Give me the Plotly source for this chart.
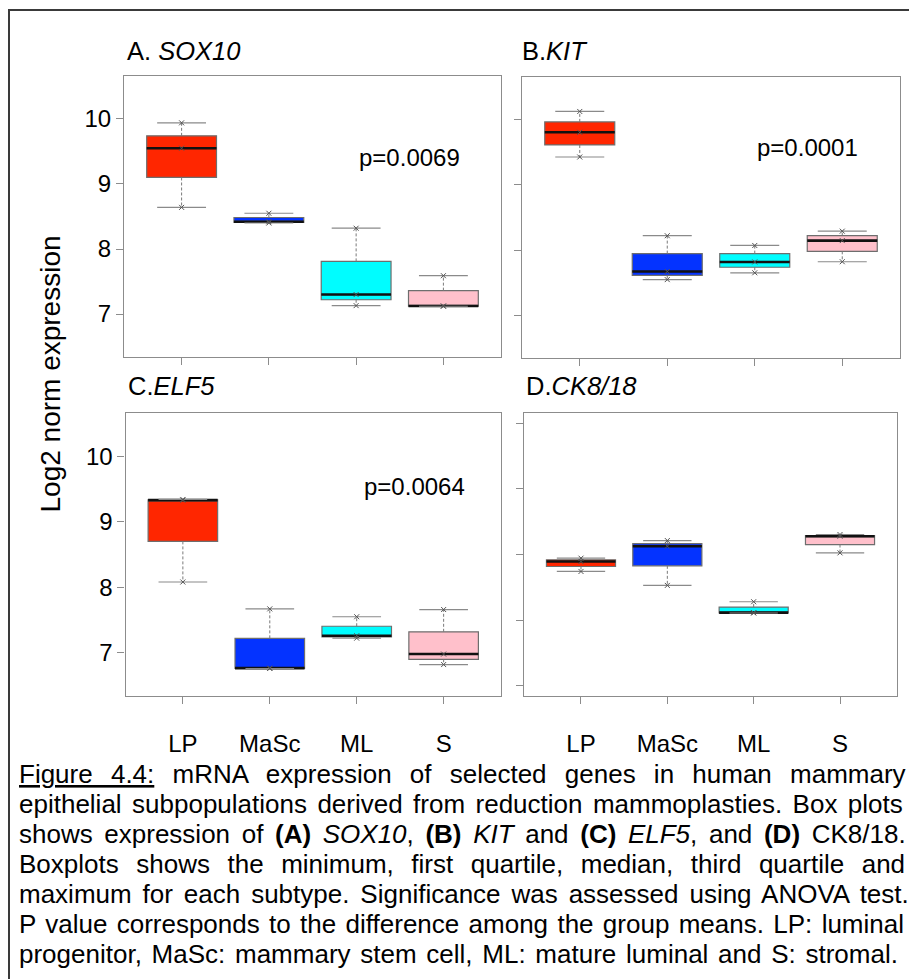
import plotly.graph_objects as go

W, H = 917, 979
OFF = 8  # page body margin of the browser

groups = ["LP", "MaSc", "ML", "S"]
colors = ["#FF2600", "#0433FF", "#00FDFF", "#FFC0CB"]

# five-number summaries per panel (min, q1, median, q3, max)
sox10_min = [8.64, 8.40, 7.13, 7.12]
sox10_q1 = [9.10, 8.41, 7.22, 7.12]
sox10_med = [9.55, 8.42, 7.30, 7.125]
sox10_q3 = [9.74, 8.485, 7.81, 7.36]
sox10_max = [9.94, 8.55, 8.32, 7.59]

kit_min = [9.43, 7.545, 7.65, 7.82]
kit_q1 = [9.615, 7.61, 7.735, 7.98]
kit_med = [9.81, 7.67, 7.817, 8.145]
kit_q3 = [9.97, 7.945, 7.945, 8.22]
kit_max = [10.13, 8.22, 8.07, 8.29]

elf5_min = [8.08, 6.76, 7.223, 6.82]
elf5_q1 = [8.70, 6.76, 7.243, 6.90]
elf5_med = [9.33, 6.765, 7.26, 6.98]
elf5_q3 = [9.335, 7.22, 7.405, 7.32]
elf5_max = [9.34, 7.67, 7.55, 7.66]

ck_min = [8.241, 8.028, 7.607, 8.525]
ck_q1 = [8.317, 8.327, 7.607, 8.652]
ck_med = [8.393, 8.627, 7.612, 8.779]
ck_q3 = [8.419, 8.667, 7.698, 8.789]
ck_max = [8.444, 8.713, 7.779, 8.805]

titles = ["A. <i>SOX10</i>", "B.<i>KIT</i>", "C.<i>ELF5</i>", "D.<i>CK8/18</i>"]
pvalues = ["p=0.0069", "p=0.0001", "p=0.0064", None]
pval_x = [3.615, 3.60, 3.66, None]
pval_y = [9.40, 9.575, 9.544, None]

ytick_main = [7, 8, 9, 10]
ytick_d = [6.5, 7.5, 8.5, 9.5, 10.5]
y_title = "Log2 norm expression"

caption_lines = [
    "<u>Figure 4.4:</u> mRNA expression of selected genes in human mammary",
    "epithelial subpopulations derived from reduction mammoplasties. Box plots",
    "shows expression of <b>(A)</b> <i>SOX10</i>, <b>(B)</b> <i>KIT</i> and <b>(C)</b> <i>ELF5</i>, and <b>(D)</b> CK8/18.",
    "Boxplots shows the minimum, first quartile, median, third quartile and",
    "maximum for each subtype. Significance was assessed using ANOVA test.",
    "P value corresponds to the difference among the group means. LP: luminal",
    "progenitor, MaSc: mammary stem cell, ML: mature luminal and S: stromal.",
]
# extra word spacing (px) that imitates the justified paragraph
caption_wordspace = [11, 3.2, 4.4, 10.3, 3.7, 2.1, 2.5]

panels = [
    (sox10_min, sox10_q1, sox10_med, sox10_q3, sox10_max),
    (kit_min, kit_q1, kit_med, kit_q3, kit_max),
    (elf5_min, elf5_q1, elf5_med, elf5_q3, elf5_max),
    (ck_min, ck_q1, ck_med, ck_q3, ck_max),
]


def px(p):
    return (p - OFF) / W


def py(p):
    return 1 - (p - OFF) / H


# panel pixel frames: (left, right, top, bottom)
frames = [(124, 501, 76, 357), (522, 900, 77, 358), (125.5, 501, 413, 696), (524, 897, 413, 696)]

FONT = "Liberation Sans, Arial, sans-serif"
fig = go.Figure()

BOXW = 0.8
CAPW = 0.56
for k, (mn, q1, md, q3, mx) in enumerate(panels):
    xa = "x" if k == 0 else f"x{k+1}"
    ya = "y" if k == 0 else f"y{k+1}"
    xs = [i + 1 for i in range(len(groups))]
    for i in range(len(groups)):
        fig.add_trace(go.Box(
            x=[xs[i]], q1=[q1[i]], median=[md[i]], q3=[q3[i]],
            lowerfence=[q1[i]], upperfence=[q3[i]],
            width=BOXW, fillcolor=colors[i], line=dict(color="#6e6e6e", width=1.2),
            whiskerwidth=0, boxpoints=False, showlegend=False, hoverinfo="skip",
            xaxis=xa, yaxis=ya))
    # medians
    mxs, mys = [], []
    for i in range(len(groups)):
        mxs += [xs[i] - BOXW / 2, xs[i] + BOXW / 2, None]
        mys += [md[i], md[i], None]
    fig.add_trace(go.Scatter(x=mxs, y=mys, mode="lines", line=dict(color="#111111", width=2.6),
                             showlegend=False, hoverinfo="skip", xaxis=xa, yaxis=ya))
    # whiskers (dashed)
    wx, wy = [], []
    for i in range(len(groups)):
        wx += [xs[i], xs[i], None, xs[i], xs[i], None]
        wy += [q3[i], mx[i], None, q1[i], mn[i], None]
    fig.add_trace(go.Scatter(x=wx, y=wy, mode="lines", line=dict(color="#7a7a7a", width=1, dash="3px,2px"),
                             showlegend=False, hoverinfo="skip", xaxis=xa, yaxis=ya))
    # staples
    sx, sy = [], []
    for i in range(len(groups)):
        sx += [xs[i] - CAPW / 2, xs[i] + CAPW / 2, None, xs[i] - CAPW / 2, xs[i] + CAPW / 2, None]
        sy += [mx[i], mx[i], None, mn[i], mn[i], None]
    fig.add_trace(go.Scatter(x=sx, y=sy, mode="lines", line=dict(color="#8a8a8a", width=1.2),
                             showlegend=False, hoverinfo="skip", xaxis=xa, yaxis=ya))
    # sample points
    ptx, pty = [], []
    for i in range(len(groups)):
        ptx += [xs[i]] * 3
        pty += [mn[i], md[i], mx[i]]
    fig.add_trace(go.Scatter(x=ptx, y=pty, mode="markers",
                             marker=dict(symbol="x-thin-open", size=5, color="#555555",
                                         line=dict(color="#555555", width=1)),
                             showlegend=False, hoverinfo="skip", xaxis=xa, yaxis=ya))

layout = dict(width=W, height=H, margin=dict(l=0, r=0, t=0, b=0),
              paper_bgcolor="white", plot_bgcolor="white",
              font=dict(family=FONT, color="black"), showlegend=False)

for k, (l, r, t, b) in enumerate(frames):
    sfx = "" if k == 0 else str(k + 1)
    bottom_row = k >= 2
    left_col = k in (0, 2)
    layout["xaxis" + sfx] = dict(
        domain=[px(l), px(r)], anchor="y" + sfx, range=[0.34, 4.66],
        showline=True, mirror=True, linecolor="#8c8c8c", linewidth=1.2,
        ticks="outside", ticklen=7, tickcolor="#8c8c8c", tickwidth=1,
        tickvals=[1, 2, 3, 4], ticktext=groups, showticklabels=bottom_row,
        ticklabelstandoff=19,
        tickfont=dict(size=24, family=FONT, color="black"),
        showgrid=False, zeroline=False, fixedrange=True)
    layout["yaxis" + sfx] = dict(
        domain=[py(b), py(t)], anchor="x" + sfx, range=[6.34, 10.66],
        showline=True, mirror=True, linecolor="#8c8c8c", linewidth=1.2,
        ticks="outside", ticklen=7, tickcolor="#8c8c8c", tickwidth=1,
        tickvals=ytick_d if k == 3 else ytick_main, showticklabels=left_col,
        tickfont=dict(size=24, family=FONT, color="black"),
        showgrid=False, zeroline=False, fixedrange=True)

annotations = []
title_pos = [(125, 51), (520, 51), (126, 386), (524, 386)]
for k, txt in enumerate(titles):
    annotations.append(dict(text=txt, x=px(title_pos[k][0]), y=py(title_pos[k][1]), xref="paper", yref="paper",
                            xanchor="left", yanchor="middle", showarrow=False,
                            font=dict(size=25.5, family=FONT, color="black")))
for k, txt in enumerate(pvalues):
    if txt is None:
        continue
    sfx = "" if k == 0 else str(k + 1)
    annotations.append(dict(text=txt, x=pval_x[k], y=pval_y[k], xref="x" + sfx, yref="y" + sfx,
                            xanchor="center", yanchor="middle", showarrow=False,
                            font=dict(size=24, family=FONT, color="black")))
annotations.append(dict(text=y_title, x=px(49.5), y=py(374), xref="paper", yref="paper",
                        textangle=-90, xanchor="center", yanchor="middle", showarrow=False,
                        font=dict(size=28, family=FONT, color="black")))
for j, line in enumerate(caption_lines):
    ws = caption_wordspace[j]
    txt = f'<span style="word-spacing:{ws}px">{line}</span>' if ws else line
    annotations.append(dict(text=txt, x=px(17), y=py(774 + 30 * j), xref="paper", yref="paper",
                            xanchor="left", yanchor="middle", showarrow=False,
                            font=dict(size=26, family=FONT, color="black")))
layout["annotations"] = annotations
layout["shapes"] = [dict(type="rect", xref="paper", yref="paper",
                         x0=px(9), x1=px(935), y0=py(1000), y1=py(10),
                         line=dict(color="#3a3a3a", width=2), fillcolor="rgba(0,0,0,0)", layer="above")]

fig.update_layout(**layout)
fig.write_html("out.html")
